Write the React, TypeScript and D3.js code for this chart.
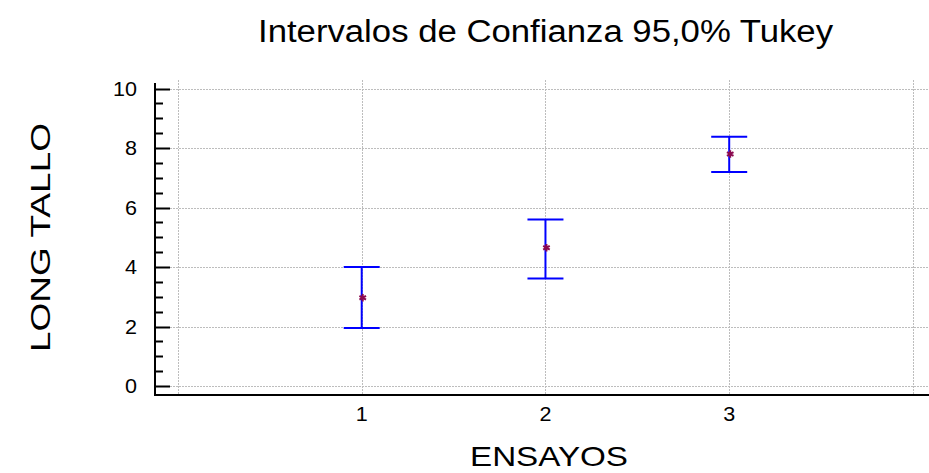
import * as React from 'react'
import { useEffect, useRef } from 'react'
import * as d3 from 'd3'

const categories = ['1', '2', '3']
const means = [2.97, 4.65, 7.8]
const lower = [1.95, 3.62, 7.2]
const upper = [4.0, 5.6, 8.38]
const yTicks = [0, 2, 4, 6, 8, 10]
const xGrid = [0, 1, 2, 3, 4]

const W = 929
const H = 473

export default function App() {
  const svgRef = useRef<SVGSVGElement>(null)

  useEffect(() => {
    if (!svgRef.current) return
    const svg = d3.select(svgRef.current)
    svg.selectAll('*').remove()

    const left = 155
    const right = 935
    const top = 80
    const bottom = 395

    const x = d3.scaleLinear().domain([-0.125, 4.12]).range([left, right])
    const y = d3.scaleLinear().domain([-0.3, 10.29]).range([bottom, top])

    const font = "'Liberation Sans', Arial, sans-serif"

    // grid
    const grid = svg.append('g')
      .attr('stroke', '#bdbdbd')
      .attr('stroke-width', 1)
      .attr('stroke-dasharray', '2,1')
    yTicks.forEach(v => {
      grid.append('line')
        .attr('x1', left + 15).attr('x2', W)
        .attr('y1', Math.round(y(v)) + 0.5).attr('y2', Math.round(y(v)) + 0.5)
    })
    xGrid.forEach(v => {
      grid.append('line')
        .attr('x1', Math.round(x(v)) + 0.5).attr('x2', Math.round(x(v)) + 0.5)
        .attr('y1', top).attr('y2', bottom)
    })

    // axes
    svg.append('line')
      .attr('x1', left).attr('x2', left)
      .attr('y1', top + 3).attr('y2', bottom + 1)
      .attr('stroke', '#000').attr('stroke-width', 2)
    svg.append('line')
      .attr('x1', left - 1).attr('x2', W)
      .attr('y1', bottom).attr('y2', bottom)
      .attr('stroke', '#000').attr('stroke-width', 2)

    // y ticks: major every 2, minor every 0.5
    d3.range(0, 10.01, 0.5).forEach(v => {
      const major = v % 2 === 0
      svg.append('line')
        .attr('x1', left).attr('x2', left + (major ? 15 : 8))
        .attr('y1', Math.round(y(v)) + 0.5).attr('y2', Math.round(y(v)) + 0.5)
        .attr('stroke', '#000').attr('stroke-width', 2)
    })
    yTicks.forEach(v => {
      const s = String(v)
      svg.append('text')
        .attr('x', 137).attr('y', y(v) + 7)
        .attr('text-anchor', 'end')
        .attr('font-family', font).attr('font-size', 19.5)
        .attr('textLength', 12 * s.length)
        .attr('lengthAdjust', 'spacingAndGlyphs')
        .text(s)
    })

    // x tick labels
    categories.forEach((c, i) => {
      svg.append('text')
        .attr('x', x(i + 1)).attr('y', 421)
        .attr('text-anchor', 'middle')
        .attr('font-family', font).attr('font-size', 19.5)
        .attr('textLength', 12 * c.length)
        .attr('lengthAdjust', 'spacingAndGlyphs')
        .text(c)
    })

    // intervals
    categories.forEach((c, i) => {
      const cx = x(i + 1)
      const g = svg.append('g').attr('stroke', '#0000ff').attr('stroke-width', 2)
      g.append('line').attr('x1', cx).attr('x2', cx).attr('y1', y(upper[i])).attr('y2', y(lower[i]))
      g.append('line').attr('x1', cx - 18).attr('x2', cx + 18).attr('y1', y(upper[i])).attr('y2', y(upper[i]))
      g.append('line').attr('x1', cx - 18).attr('x2', cx + 18).attr('y1', y(lower[i])).attr('y2', y(lower[i]))
      svg.append('path')
        .attr('d', d3.symbol(d3.symbolAsterisk, 40)())
        .attr('transform', `translate(${cx + 1},${y(means[i])})`)
        .attr('fill', 'none')
        .attr('stroke', '#8b0a50')
        .attr('stroke-width', 2)
    })

    // titles
    svg.append('text')
      .attr('x', 258).attr('y', 42)
      .attr('font-family', font).attr('font-size', 31)
      .attr('textLength', 575)
      .attr('lengthAdjust', 'spacingAndGlyphs')
      .text('Intervalos de Confianza 95,0% Tukey')
    svg.append('text')
      .attr('x', 470).attr('y', 466)
      .attr('font-family', font).attr('font-size', 28)
      .attr('textLength', 158)
      .attr('lengthAdjust', 'spacingAndGlyphs')
      .text('ENSAYOS')
    svg.append('text')
      .attr('transform', `translate(50,352) rotate(-90)`)
      .attr('font-family', font).attr('font-size', 28)
      .attr('textLength', 229)
      .attr('lengthAdjust', 'spacingAndGlyphs')
      .text('LONG TALLO')
  }, [])

  return (
    <svg
      ref={svgRef}
      width={W}
      height={H}
      style={{ position: 'absolute', left: 0, top: 0, background: '#fff' }}
    />
  )
}
